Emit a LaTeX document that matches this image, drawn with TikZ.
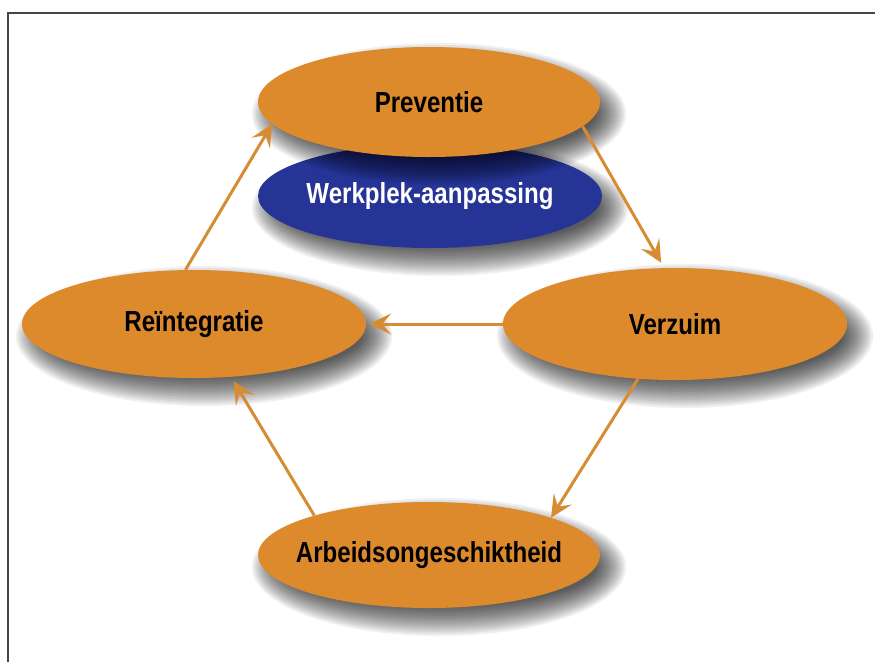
\documentclass[tikz,border=0pt]{standalone}
\usepackage{fontspec}
\newfontfamily\lbl{Liberation Sans}[FakeStretch=0.83]
\usetikzlibrary{shapes.geometric,arrows.meta}
\definecolor{org}{RGB}{221,138,45}
\definecolor{navy}{RGB}{38,52,150}
\definecolor{arrowc}{RGB}{214,140,50}
\definecolor{framec}{RGB}{70,70,70}
\tikzset{
  oval/.style={ellipse, inner xsep=-70pt, inner ysep=0pt, fill=org, text=black,
    font=\lbl\bfseries\fontsize{29}{32}\selectfont},
  flow/.style={draw=arrowc, line width=3pt,
    -{Stealth[length=22pt,width=21pt,inset=9pt]}},
}
\newcommand\softshadow[4]{%
  \foreach \k in {0,...,15}{%
    \fill[black,opacity=0.06] (#1+10,#2+12) ellipse ({(#3+16-2*\k)*1pt} and {(#4+16-2*\k)*1pt});}}
\begin{document}
\begin{tikzpicture}[x=1pt,y=-1pt]
\useasboundingbox (0,0) rectangle (875,662);
\fill[white] (0,0) rectangle (875,662);
\draw[line width=1.5pt, framec] (8,662) -- (8,13) -- (875,13);

% Werkplek-aanpassing
\softshadow{430}{196}{172}{52}
\node[oval, fill=navy, text=white, minimum width=344pt, minimum height=104pt] (werk) at (430,196) {Werkplek-aanpassing};
% Preventie
\softshadow{429}{102}{171}{55}
\node[oval, minimum width=342pt, minimum height=110pt] (prev) at (429,102) {Preventie};
% Verzuim
\softshadow{675}{324}{172}{56}
\node[oval, minimum width=344pt, minimum height=112pt] (verz) at (675,324) {Verzuim};
% Reintegratie
\softshadow{194}{324}{172}{54}
\node[oval, minimum width=344pt, minimum height=108pt] (rein) at (194,324) {Reïntegratie};
% Arbeidsongeschiktheid
\softshadow{429}{555}{171}{53}
\node[oval, minimum width=342pt, minimum height=106pt] (arb) at (429,555) {Arbeidsongeschiktheid};

\draw[flow] (rein.99) -- (prev.188);
\draw[flow, shorten >=6pt] (prev.351) -- (verz.101);
\draw[flow, shorten >=3pt] (verz.west) -- (rein.east);
\draw[flow] (verz.236) -- (arb.17);
\draw[flow, shorten >=5pt] (arb.161) -- (rein.305);
\end{tikzpicture}
\end{document}
